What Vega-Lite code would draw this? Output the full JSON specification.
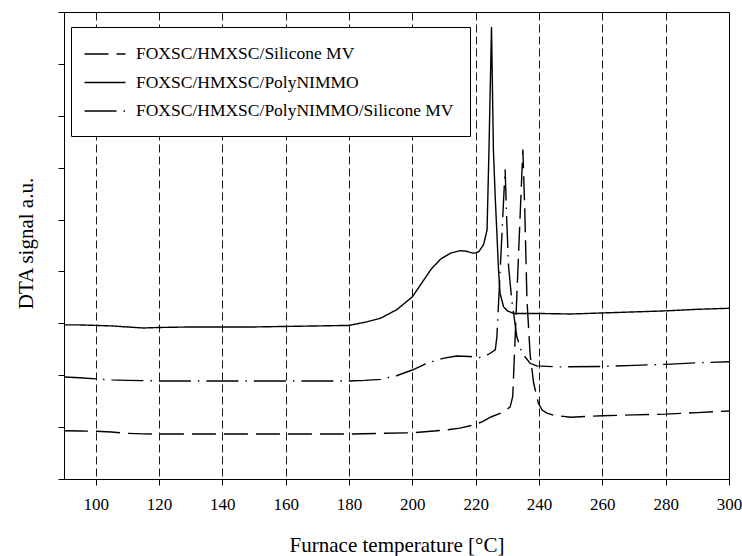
{
  "$schema": "https://vega.github.io/schema/vega-lite/v6.json",
  "autosize": "none",
  "width": 665,
  "height": 467,
  "padding": {"left": 64, "top": 12, "right": 13, "bottom": 77},
  "config": {
    "font": "'Liberation Serif', 'Times New Roman', 'DejaVu Serif', serif",
    "view": {"stroke": "black", "strokeWidth": 1},
    "axis": {"domainColor": "black", "tickColor": "black", "labelColor": "black", "titleColor": "black", "titleFontWeight": "normal",
             "labelFont": "'Liberation Serif', 'Times New Roman', serif", "titleFont": "'Liberation Serif', 'Times New Roman', serif"},
    "legend": {"labelFont": "'Liberation Serif', 'Times New Roman', serif"}
  },
  "datasets": {
    "dta": [
      {"T": 90, "v": 0.93, "s": "FOXSC/HMXSC/Silicone MV"},
      {"T": 95, "v": 0.925, "s": "FOXSC/HMXSC/Silicone MV"},
      {"T": 100, "v": 0.92, "s": "FOXSC/HMXSC/Silicone MV"},
      {"T": 105, "v": 0.905, "s": "FOXSC/HMXSC/Silicone MV"},
      {"T": 110, "v": 0.88, "s": "FOXSC/HMXSC/Silicone MV"},
      {"T": 115, "v": 0.87, "s": "FOXSC/HMXSC/Silicone MV"},
      {"T": 120, "v": 0.867, "s": "FOXSC/HMXSC/Silicone MV"},
      {"T": 140, "v": 0.867, "s": "FOXSC/HMXSC/Silicone MV"},
      {"T": 160, "v": 0.867, "s": "FOXSC/HMXSC/Silicone MV"},
      {"T": 180, "v": 0.867, "s": "FOXSC/HMXSC/Silicone MV"},
      {"T": 190, "v": 0.88, "s": "FOXSC/HMXSC/Silicone MV"},
      {"T": 200, "v": 0.89, "s": "FOXSC/HMXSC/Silicone MV"},
      {"T": 210, "v": 0.94, "s": "FOXSC/HMXSC/Silicone MV"},
      {"T": 215, "v": 0.98, "s": "FOXSC/HMXSC/Silicone MV"},
      {"T": 219.3, "v": 1.04, "s": "FOXSC/HMXSC/Silicone MV"},
      {"T": 222, "v": 1.1, "s": "FOXSC/HMXSC/Silicone MV"},
      {"T": 225, "v": 1.2, "s": "FOXSC/HMXSC/Silicone MV"},
      {"T": 228.8, "v": 1.29, "s": "FOXSC/HMXSC/Silicone MV"},
      {"T": 230.9, "v": 1.39, "s": "FOXSC/HMXSC/Silicone MV"},
      {"T": 231.7, "v": 1.59, "s": "FOXSC/HMXSC/Silicone MV"},
      {"T": 233.3, "v": 3.97, "s": "FOXSC/HMXSC/Silicone MV"},
      {"T": 234.9, "v": 6.35, "s": "FOXSC/HMXSC/Silicone MV"},
      {"T": 235.5, "v": 5.2, "s": "FOXSC/HMXSC/Silicone MV"},
      {"T": 236.2, "v": 3.45, "s": "FOXSC/HMXSC/Silicone MV"},
      {"T": 237.2, "v": 2.4, "s": "FOXSC/HMXSC/Silicone MV"},
      {"T": 238.3, "v": 1.85, "s": "FOXSC/HMXSC/Silicone MV"},
      {"T": 239.8, "v": 1.46, "s": "FOXSC/HMXSC/Silicone MV"},
      {"T": 241, "v": 1.33, "s": "FOXSC/HMXSC/Silicone MV"},
      {"T": 242.5, "v": 1.27, "s": "FOXSC/HMXSC/Silicone MV"},
      {"T": 244.5, "v": 1.23, "s": "FOXSC/HMXSC/Silicone MV"},
      {"T": 250, "v": 1.19, "s": "FOXSC/HMXSC/Silicone MV"},
      {"T": 260, "v": 1.22, "s": "FOXSC/HMXSC/Silicone MV"},
      {"T": 270, "v": 1.235, "s": "FOXSC/HMXSC/Silicone MV"},
      {"T": 280, "v": 1.25, "s": "FOXSC/HMXSC/Silicone MV"},
      {"T": 290, "v": 1.28, "s": "FOXSC/HMXSC/Silicone MV"},
      {"T": 300, "v": 1.31, "s": "FOXSC/HMXSC/Silicone MV"},

      {"T": 90, "v": 2.97, "s": "FOXSC/HMXSC/PolyNIMMO"},
      {"T": 95, "v": 2.97, "s": "FOXSC/HMXSC/PolyNIMMO"},
      {"T": 100, "v": 2.96, "s": "FOXSC/HMXSC/PolyNIMMO"},
      {"T": 105, "v": 2.95, "s": "FOXSC/HMXSC/PolyNIMMO"},
      {"T": 110, "v": 2.93, "s": "FOXSC/HMXSC/PolyNIMMO"},
      {"T": 115, "v": 2.91, "s": "FOXSC/HMXSC/PolyNIMMO"},
      {"T": 120, "v": 2.92, "s": "FOXSC/HMXSC/PolyNIMMO"},
      {"T": 130, "v": 2.93, "s": "FOXSC/HMXSC/PolyNIMMO"},
      {"T": 140, "v": 2.93, "s": "FOXSC/HMXSC/PolyNIMMO"},
      {"T": 150, "v": 2.93, "s": "FOXSC/HMXSC/PolyNIMMO"},
      {"T": 160, "v": 2.94, "s": "FOXSC/HMXSC/PolyNIMMO"},
      {"T": 170, "v": 2.95, "s": "FOXSC/HMXSC/PolyNIMMO"},
      {"T": 180, "v": 2.96, "s": "FOXSC/HMXSC/PolyNIMMO"},
      {"T": 185, "v": 3.02, "s": "FOXSC/HMXSC/PolyNIMMO"},
      {"T": 190, "v": 3.1, "s": "FOXSC/HMXSC/PolyNIMMO"},
      {"T": 195, "v": 3.26, "s": "FOXSC/HMXSC/PolyNIMMO"},
      {"T": 200, "v": 3.51, "s": "FOXSC/HMXSC/PolyNIMMO"},
      {"T": 203, "v": 3.78, "s": "FOXSC/HMXSC/PolyNIMMO"},
      {"T": 206, "v": 4.05, "s": "FOXSC/HMXSC/PolyNIMMO"},
      {"T": 209, "v": 4.24, "s": "FOXSC/HMXSC/PolyNIMMO"},
      {"T": 212, "v": 4.35, "s": "FOXSC/HMXSC/PolyNIMMO"},
      {"T": 215, "v": 4.4, "s": "FOXSC/HMXSC/PolyNIMMO"},
      {"T": 217, "v": 4.39, "s": "FOXSC/HMXSC/PolyNIMMO"},
      {"T": 219.3, "v": 4.35, "s": "FOXSC/HMXSC/PolyNIMMO"},
      {"T": 221, "v": 4.38, "s": "FOXSC/HMXSC/PolyNIMMO"},
      {"T": 222.5, "v": 4.52, "s": "FOXSC/HMXSC/PolyNIMMO"},
      {"T": 223.6, "v": 4.8, "s": "FOXSC/HMXSC/PolyNIMMO"},
      {"T": 224.2, "v": 6.34, "s": "FOXSC/HMXSC/PolyNIMMO"},
      {"T": 225.0, "v": 8.71, "s": "FOXSC/HMXSC/PolyNIMMO"},
      {"T": 225.6, "v": 6.34, "s": "FOXSC/HMXSC/PolyNIMMO"},
      {"T": 226.2, "v": 5.4, "s": "FOXSC/HMXSC/PolyNIMMO"},
      {"T": 226.7, "v": 4.74, "s": "FOXSC/HMXSC/PolyNIMMO"},
      {"T": 227.2, "v": 4.05, "s": "FOXSC/HMXSC/PolyNIMMO"},
      {"T": 227.7, "v": 3.58, "s": "FOXSC/HMXSC/PolyNIMMO"},
      {"T": 228.8, "v": 3.32, "s": "FOXSC/HMXSC/PolyNIMMO"},
      {"T": 230, "v": 3.24, "s": "FOXSC/HMXSC/PolyNIMMO"},
      {"T": 232, "v": 3.19, "s": "FOXSC/HMXSC/PolyNIMMO"},
      {"T": 240, "v": 3.19, "s": "FOXSC/HMXSC/PolyNIMMO"},
      {"T": 250, "v": 3.18, "s": "FOXSC/HMXSC/PolyNIMMO"},
      {"T": 260, "v": 3.2, "s": "FOXSC/HMXSC/PolyNIMMO"},
      {"T": 270, "v": 3.22, "s": "FOXSC/HMXSC/PolyNIMMO"},
      {"T": 280, "v": 3.24, "s": "FOXSC/HMXSC/PolyNIMMO"},
      {"T": 290, "v": 3.27, "s": "FOXSC/HMXSC/PolyNIMMO"},
      {"T": 300, "v": 3.29, "s": "FOXSC/HMXSC/PolyNIMMO"},

      {"T": 90, "v": 1.965, "s": "FOXSC/HMXSC/PolyNIMMO/Silicone MV"},
      {"T": 95, "v": 1.95, "s": "FOXSC/HMXSC/PolyNIMMO/Silicone MV"},
      {"T": 100, "v": 1.93, "s": "FOXSC/HMXSC/PolyNIMMO/Silicone MV"},
      {"T": 105, "v": 1.91, "s": "FOXSC/HMXSC/PolyNIMMO/Silicone MV"},
      {"T": 110, "v": 1.9, "s": "FOXSC/HMXSC/PolyNIMMO/Silicone MV"},
      {"T": 120, "v": 1.89, "s": "FOXSC/HMXSC/PolyNIMMO/Silicone MV"},
      {"T": 140, "v": 1.89, "s": "FOXSC/HMXSC/PolyNIMMO/Silicone MV"},
      {"T": 160, "v": 1.89, "s": "FOXSC/HMXSC/PolyNIMMO/Silicone MV"},
      {"T": 180, "v": 1.89, "s": "FOXSC/HMXSC/PolyNIMMO/Silicone MV"},
      {"T": 185, "v": 1.9, "s": "FOXSC/HMXSC/PolyNIMMO/Silicone MV"},
      {"T": 190, "v": 1.92, "s": "FOXSC/HMXSC/PolyNIMMO/Silicone MV"},
      {"T": 195, "v": 1.99, "s": "FOXSC/HMXSC/PolyNIMMO/Silicone MV"},
      {"T": 200, "v": 2.1, "s": "FOXSC/HMXSC/PolyNIMMO/Silicone MV"},
      {"T": 205, "v": 2.24, "s": "FOXSC/HMXSC/PolyNIMMO/Silicone MV"},
      {"T": 210, "v": 2.33, "s": "FOXSC/HMXSC/PolyNIMMO/Silicone MV"},
      {"T": 214, "v": 2.37, "s": "FOXSC/HMXSC/PolyNIMMO/Silicone MV"},
      {"T": 218, "v": 2.36, "s": "FOXSC/HMXSC/PolyNIMMO/Silicone MV"},
      {"T": 221.2, "v": 2.34, "s": "FOXSC/HMXSC/PolyNIMMO/Silicone MV"},
      {"T": 224, "v": 2.4, "s": "FOXSC/HMXSC/PolyNIMMO/Silicone MV"},
      {"T": 226.2, "v": 2.49, "s": "FOXSC/HMXSC/PolyNIMMO/Silicone MV"},
      {"T": 226.7, "v": 2.74, "s": "FOXSC/HMXSC/PolyNIMMO/Silicone MV"},
      {"T": 228.0, "v": 4.35, "s": "FOXSC/HMXSC/PolyNIMMO/Silicone MV"},
      {"T": 229.3, "v": 5.97, "s": "FOXSC/HMXSC/PolyNIMMO/Silicone MV"},
      {"T": 229.8, "v": 5.0, "s": "FOXSC/HMXSC/PolyNIMMO/Silicone MV"},
      {"T": 230.4, "v": 4.09, "s": "FOXSC/HMXSC/PolyNIMMO/Silicone MV"},
      {"T": 231.4, "v": 3.45, "s": "FOXSC/HMXSC/PolyNIMMO/Silicone MV"},
      {"T": 233, "v": 2.74, "s": "FOXSC/HMXSC/PolyNIMMO/Silicone MV"},
      {"T": 234.6, "v": 2.43, "s": "FOXSC/HMXSC/PolyNIMMO/Silicone MV"},
      {"T": 237.2, "v": 2.23, "s": "FOXSC/HMXSC/PolyNIMMO/Silicone MV"},
      {"T": 239.3, "v": 2.18, "s": "FOXSC/HMXSC/PolyNIMMO/Silicone MV"},
      {"T": 246.7, "v": 2.16, "s": "FOXSC/HMXSC/PolyNIMMO/Silicone MV"},
      {"T": 260, "v": 2.17, "s": "FOXSC/HMXSC/PolyNIMMO/Silicone MV"},
      {"T": 270, "v": 2.19, "s": "FOXSC/HMXSC/PolyNIMMO/Silicone MV"},
      {"T": 280, "v": 2.21, "s": "FOXSC/HMXSC/PolyNIMMO/Silicone MV"},
      {"T": 290, "v": 2.24, "s": "FOXSC/HMXSC/PolyNIMMO/Silicone MV"},
      {"T": 300, "v": 2.26, "s": "FOXSC/HMXSC/PolyNIMMO/Silicone MV"}
    ]
  },
  "data": {"name": "dta"},
  "mark": {"type": "line", "color": "black", "strokeWidth": 1.4, "clip": true},
  "encoding": {
    "x": {
      "field": "T", "type": "quantitative",
      "scale": {"domain": [90, 300], "nice": false, "zero": false},
      "axis": {
        "values": [100, 120, 140, 160, 180, 200, 220, 240, 260, 280, 300],
        "grid": true, "gridColor": "black", "gridDash": [8, 4], "gridWidth": 1, "gridOpacity": 0.9,
        "tickSize": 6, "labelFontSize": 17, "labelPadding": 11, "labelFlush": false,
        "title": "Furnace temperature [°C]", "titleFontSize": 21,
        "titleBaseline": "alphabetic", "titleY": 72
      }
    },
    "y": {
      "field": "v", "type": "quantitative",
      "scale": {"domain": [0, 9], "nice": false},
      "axis": {
        "values": [0, 1, 2, 3, 4, 5, 6, 7, 8, 9],
        "labels": false, "grid": false, "tickSize": 6,
        "title": "DTA signal a.u.", "titleFontSize": 21,
        "titleBaseline": "alphabetic", "titleX": -32, "titleY": 231
      }
    },
    "strokeDash": {
      "field": "s", "type": "nominal",
      "scale": {
        "domain": ["FOXSC/HMXSC/Silicone MV", "FOXSC/HMXSC/PolyNIMMO", "FOXSC/HMXSC/PolyNIMMO/Silicone MV"],
        "range": [[24, 8], [1, 0], [32, 7, 1.5, 7]]
      },
      "legend": {
        "title": null, "orient": "none", "legendX": 7, "legendY": 15,
        "strokeColor": "black", "fillColor": "white", "padding": 16,
        "symbolType": "M-2,0H2", "symbolSize": 420, "symbolStrokeWidth": 1.4, "symbolStrokeColor": "black", "symbolFillColor": "transparent",
        "symbolOffset": 7,
        "labelFontSize": 17.5, "labelOffset": 20, "rowPadding": 8.5, "labelLimit": 400, "labelColor": "black"
      }
    }
  }
}
